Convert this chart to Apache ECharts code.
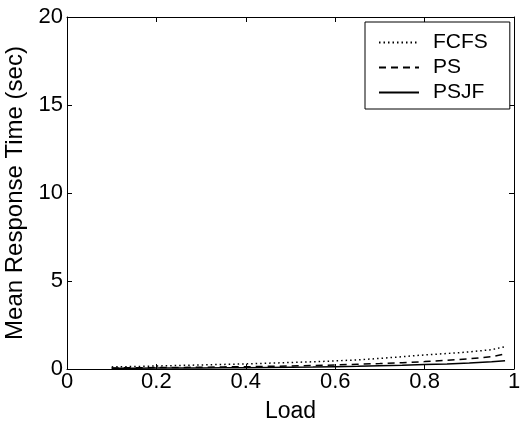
<!DOCTYPE html>
<html><head><meta charset="utf-8">
<script src="https://cdn.jsdelivr.net/npm/echarts@6/dist/echarts.min.js"></script>
<style>html,body{margin:0;padding:0;background:#fff}#c{width:525px;height:427px}</style>
</head><body><div id="c"></div>
<script>
const loads = [0.1,0.15,0.2,0.25,0.3,0.35,0.4,0.45,0.5,0.55,0.6,0.65,0.7,0.75,0.8,0.85,0.9,0.95,0.98];
const fcfs  = [0.12,0.14,0.17,0.2,0.23,0.26,0.29,0.33,0.37,0.41,0.46,0.52,0.6,0.7,0.8,0.88,0.97,1.1,1.27];
const ps    = [0.06,0.07,0.08,0.09,0.1,0.12,0.13,0.15,0.17,0.2,0.23,0.27,0.31,0.36,0.42,0.5,0.58,0.7,0.85];
const psjf  = [0.04,0.045,0.05,0.055,0.06,0.07,0.075,0.085,0.1,0.11,0.13,0.15,0.18,0.21,0.25,0.29,0.34,0.41,0.47];
const xTicks = [0,0.2,0.4,0.6,0.8,1];
const yTicks = [0,5,10,15,20];
const font = 'Liberation Sans, Arial, Helvetica, sans-serif';
const pair = (a) => loads.map((x,i)=>[x,a[i]]);
const chart = echarts.init(document.getElementById('c'));
const axLine = {show:true, onZero:false, lineStyle:{color:'#000', width:1}};
const axTick = {show:true, inside:true, length:5, lineStyle:{color:'#000', width:1}};
chart.setOption({
  animation:false,
  grid:{left:67,right:11,top:17,bottom:58, outerBoundsMode:'none', containLabel:false},
  legend:{
    orient:'vertical', left:365, top:22,
    itemWidth:40, itemHeight:14, itemGap:4,
    padding:[10,22,6,13],
    borderColor:'#000', borderWidth:1, backgroundColor:'#fff',
    itemStyle:{opacity:0},
    textStyle:{fontFamily:font, fontSize:21, color:'#000', padding:[0,0,0,9]},
    data:['FCFS','PS','PSJF']
  },
  xAxis:[{
    type:'value', min:0, max:1, interval:0.2,
    name:'Load', nameLocation:'middle', nameGap:31,
    nameTextStyle:{fontFamily:font, fontSize:23, color:'#000'},
    axisLine:axLine, axisTick:axTick, splitLine:{show:false},
    axisLabel:{fontFamily:font, fontSize:22, color:'#000', margin:2,
      formatter:(v)=> xTicks.includes(+v.toFixed(1)) ? String(+v.toFixed(1)) : ''}
  },{
    type:'value', min:0, max:1, interval:0.2, position:'top',
    axisLine:axLine, axisTick:axTick, axisLabel:{show:false}, splitLine:{show:false}
  }],
  yAxis:[{
    type:'value', min:0, max:20, interval:5,
    name:'Mean Response Time (sec)', nameLocation:'middle', nameGap:35,
    nameTextStyle:{fontFamily:font, fontSize:24, color:'#000'},
    axisLine:axLine, axisTick:axTick, splitLine:{show:false},
    axisLabel:{fontFamily:font, fontSize:22, color:'#000', margin:4,
      formatter:(v)=> yTicks.includes(v) ? String(v) : ''}
  },{
    type:'value', min:0, max:20, interval:5, position:'right',
    axisLine:axLine, axisTick:axTick, axisLabel:{show:false}, splitLine:{show:false}
  }],
  series:[
    {name:'FCFS', type:'line', data:pair(fcfs), symbol:'none', smooth:false,
     lineStyle:{color:'#000', width:1.5, type:[1.5,3]}, itemStyle:{color:'#000'}},
    {name:'PS', type:'line', data:pair(ps), symbol:'none',
     lineStyle:{color:'#000', width:1.5, type:[7,5]}, itemStyle:{color:'#000'}},
    {name:'PSJF', type:'line', data:pair(psjf), symbol:'none',
     lineStyle:{color:'#000', width:1.5, type:'solid'}, itemStyle:{color:'#000'}}
  ]
});
</script></body></html>
